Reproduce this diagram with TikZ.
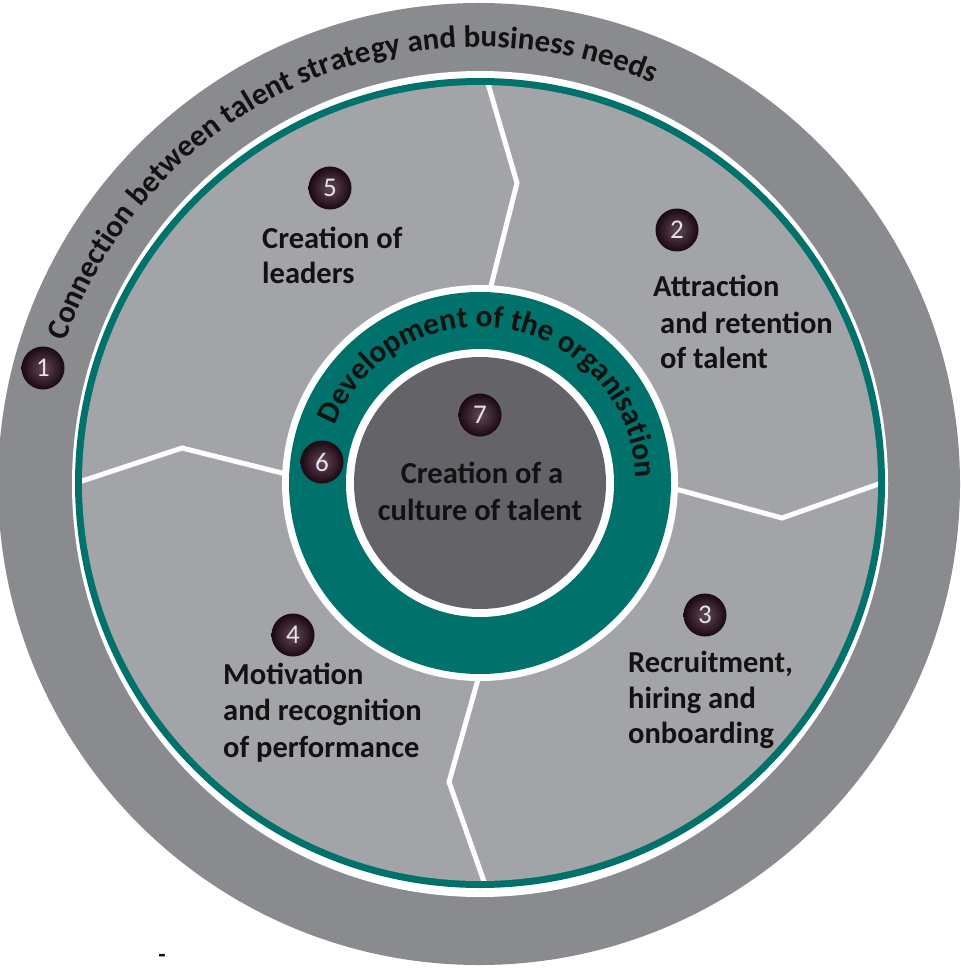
\documentclass[tikz,border=0pt]{standalone}
\usepackage{fontspec}
\setmainfont{Carlito}
\usetikzlibrary{decorations.text}
\definecolor{outerg}{RGB}{138,139,143}
\definecolor{lightg}{RGB}{163,164,168}
\definecolor{darkg}{RGB}{99,99,104}
\definecolor{tealc}{RGB}{0,113,107}
\definecolor{ballhi}{RGB}{100,72,88}
\definecolor{balllo}{RGB}{26,8,18}
\definecolor{numc}{RGB}{228,228,232}
\definecolor{txtc}{RGB}{18,18,18}
\newcommand{\lblfont}{\bfseries\fontsize{30.5}{36}\selectfont}
\newcommand{\arcfont}{\bfseries\fontsize{31}{36}\selectfont}
\begin{document}
\begin{tikzpicture}[x=1pt,y=1pt,
  ball/.style={circle, minimum size=43pt, inner sep=0pt, shade, shading=radial, inner color=ballhi, outer color=balllo, text=numc, font=\fontsize{27}{27}\selectfont},
  lbl/.style={anchor=base west, inner sep=0pt, font=\lblfont, text=txtc},
  clbl/.style={anchor=base, inner sep=0pt, font=\lblfont, text=txtc},
  divline/.style={draw=white, line width=5pt, line join=miter}]
\useasboundingbox (0,-968) rectangle (960,0);
\fill[white] (0,-968) rectangle (960,0);
\coordinate (C) at (480,-483);
\coordinate (C0) at (479,-484);
% outer ring
\fill[outerg] (C0) circle[radius=481];
\fill[white] (480,-484) ellipse[x radius=408, y radius=413];
\fill[tealc] (C) circle[radius=405];
\fill[lightg] (C) circle[radius=398];
% dividing lines
\begin{scope}
\clip (C) circle[radius=398];
\draw[divline] (484,-70) -- (517,-183) -- (490,-290);
\draw[divline] (70,-485) -- (182,-448) -- (290,-475);
\draw[divline] (672,-488) -- (782,-518) -- (890,-480);
\draw[divline] (479,-676) -- (449,-782) -- (487,-890);
\end{scope}
% middle ring
\fill[white] (C) circle[radius=198];
\fill[tealc] (C) circle[radius=191];
\fill[white] (C) circle[radius=134];
\fill[darkg] (C) circle[radius=126];
% curved texts
\path[decorate, decoration={text along path, text align=center, text color=txtc,
  text={|\arcfont|Connection between talent strategy and business needs}}]
  ([shift={(161:437)}]C0) arc[start angle=161, end angle=66.5, radius=437];
\path[decorate, decoration={text along path, text align=center, text color=txtc,
  text={|\arcfont|Development of the organisation}}]
  ([shift={(161:156)}]C) arc[start angle=161, end angle=-1, radius=156];
% numbered balls
\node[ball] (n1) at (43,-368) {1};
\node[ball] (n2) at (677,-230) {2};
\node[ball] (n3) at (705,-615) {3};
\node[ball] (n4) at (293,-635) {4};
\node[ball] (n5) at (330,-188) {5};
\node[ball] (n6) at (322,-462) {6};
\node[ball] (n7) at (480,-415) {7};
% labels
\node[lbl] (t5a) at (262,-248) {Creation of};
\node[lbl] (t5b) at (262,-283) {leaders};
\node[lbl] (t2a) at (653,-296) {Attraction};
\node[lbl] (t2b) at (660,-333) {and retention};
\node[lbl] (t2c) at (660,-368) {of talent};
\node[lbl] (t3a) at (628,-672) {Recruitment,};
\node[lbl] (t3b) at (628,-708) {hiring and};
\node[lbl] (t3c) at (628,-743) {onboarding};
\node[lbl] (t4a) at (223,-684) {Motivation};
\node[lbl] (t4b) at (223,-720) {and recognition};
\node[lbl] (t4c) at (223,-757) {of performance};
\node[clbl] (t7a) at (482,-483) {Creation of a};
\node[clbl] (t7b) at (480,-520) {culture of talent};
\node[inner sep=0pt, font=\bfseries\fontsize{24}{24}\selectfont, text=txtc] (dash) at (162,-958) {-};
\end{tikzpicture}
\end{document}
